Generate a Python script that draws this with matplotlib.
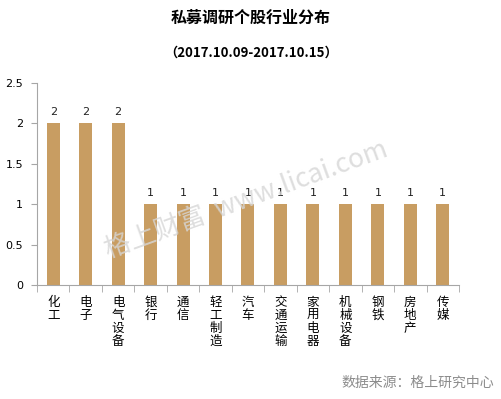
import matplotlib.pyplot as plt
import numpy as np

plt.rcParams['font.family'] = ['Noto Sans CJK SC', 'DejaVu Sans']

categories = ["化工", "电子", "电气设备", "银行", "通信", "轻工制造", "汽车",
              "交通运输", "家用电器", "机械设备", "钢铁", "房地产", "传媒"]
counts = [2, 2, 2, 1, 1, 1, 1, 1, 1, 1, 1, 1, 1]
yticks = [0, 0.5, 1, 1.5, 2, 2.5]
ytick_labels = ["0", "0.5", "1", "1.5", "2", "2.5"]

BAR_COLOR = "#C89D62"
AXIS_COLOR = "#A6A6A6"

fig = plt.figure(figsize=(5.02, 3.99), dpi=100)
ax = fig.add_axes([0.0737, 0.2857, 0.8406, 0.5063])

x = np.arange(len(categories))
ax.bar(x, counts, width=0.4, color=BAR_COLOR)
for xi, v in zip(x, counts):
    ax.text(xi, v + 0.08, str(v), ha="center", va="bottom", fontsize=8, color="#222222",
            family="DejaVu Sans")

ax.set_xlim(-0.5, len(categories) - 0.5)
ax.set_ylim(0, 2.5)
ax.set_yticks(yticks)
ax.set_yticklabels(ytick_labels, fontsize=8, family="DejaVu Sans")
ax.set_xticks(x)
ax.set_xticklabels(["\n".join(c) for c in categories], fontsize=9, linespacing=1.0)
ax.tick_params(axis="x", length=0, pad=8)
ax.set_xticks(np.arange(len(categories) + 1) - 0.5, minor=True)
ax.tick_params(axis="x", which="minor", length=5, color=AXIS_COLOR)
ax.tick_params(axis="y", length=4, color=AXIS_COLOR, pad=6)
for sp in ["top", "right"]:
    ax.spines[sp].set_visible(False)
for sp in ["left", "bottom"]:
    ax.spines[sp].set_color(AXIS_COLOR)

fig.text(0.5, 0.955, "私募调研个股行业分布", ha="center", va="center", fontsize=11.5,
         fontweight="bold")
fig.text(0.5, 0.868, "（2017.10.09-2017.10.15）", ha="center", va="center", fontsize=9.5,
         fontweight="bold")
fig.text(0.985, 0.04, "数据来源：格上研究中心", ha="right", va="center", fontsize=10,
         color="#8C8C8C")
fig.text(0.49, 0.50, "格上财富  www.licai.com", ha="center", va="center", fontsize=19,
         color="#D6D6D6", rotation=20, alpha=0.8)

fig.savefig("out.png", dpi=100)
